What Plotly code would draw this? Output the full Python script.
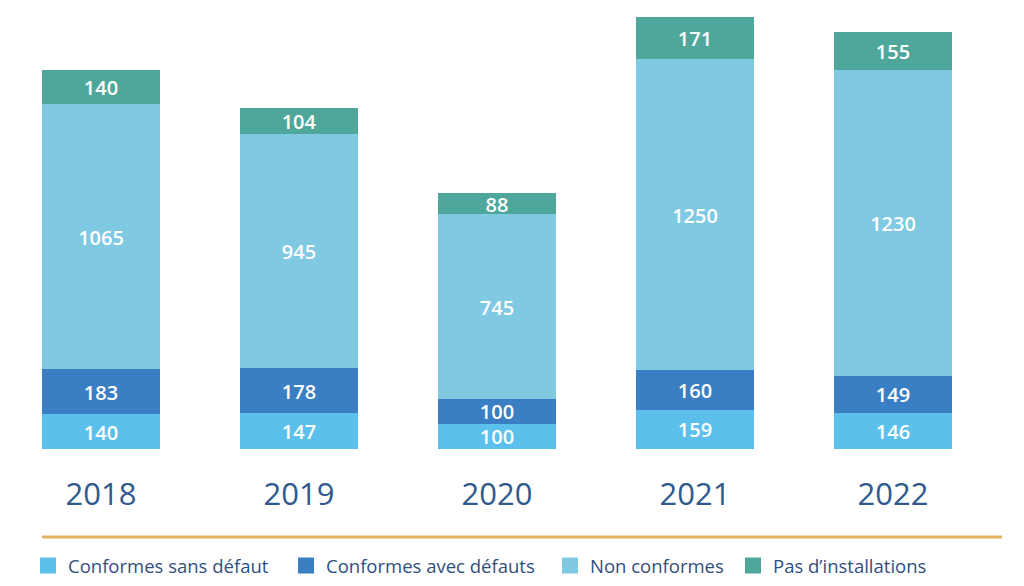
import plotly.graph_objects as go

years = ["2018", "2019", "2020", "2021", "2022"]
series_names = ["Conformes sans défaut", "Conformes avec défauts", "Non conformes", "Pas d’installations"]
conformes_sans = [140, 147, 100, 159, 146]
conformes_avec = [183, 178, 100, 160, 149]
non_conformes = [1065, 945, 745, 1250, 1230]
pas_install = [140, 104, 88, 171, 155]

colors = ["#5CC0EC", "#3A7FC4", "#80C9E3", "#4FA79B"]
values = [conformes_sans, conformes_avec, non_conformes, pas_install]
legend_ids = ["legend", "legend2", "legend3", "legend4"]
legend_x_px = [20, 278, 542, 725]

fig = go.Figure()
for k, (name, vals, col, lid) in enumerate(zip(series_names, values, colors, legend_ids)):
    # slightly smaller labels on the two thin stacked segments of the shortest bar
    sizes = [20 if (k < 2 and v <= 100) else 22 for v in vals]
    fig.add_trace(go.Bar(
        x=years, y=vals, name=name, marker=dict(color=col, line=dict(width=0)),
        text=vals, texttemplate="%{text}", textposition="inside",
        insidetextanchor="middle", textangle=0, constraintext="none",
        textfont=dict(color="white", size=sizes, family="Open Sans", weight=600),
        showlegend=False, hoverinfo="skip",
    ))
    fig.add_trace(go.Scatter(
        x=[None], y=[None], mode="markers", name=name,
        marker=dict(symbol="square", size=16, color=col),
        legend=lid, showlegend=True,
    ))

layout_legends = {}
for lid, xp in zip(legend_ids, legend_x_px):
    layout_legends[lid] = dict(
        xref="container", yref="container", x=xp / 1024, y=1 - 558 / 586,
        xanchor="left", yanchor="middle", orientation="h",
        font=dict(size=18.5, color="#2F4F7F", family="Open Sans"),
        bgcolor="rgba(0,0,0,0)", itemwidth=30, tracegroupgap=0,
    )

fig.update_layout(
    barmode="stack", bargap=0.404,
    width=1024, height=586,
    margin=dict(l=0, r=40, t=2, b=145),
    paper_bgcolor="white", plot_bgcolor="white",
    uniformtext=dict(minsize=20, mode="show"),
    xaxis=dict(range=[-0.4697, 4.5], showline=False, showgrid=False, ticks="",
               tickfont=dict(size=31, color="#2F5A8E", family="Open Sans"),
               ticklabelstandoff=24),
    yaxis=dict(range=[0, 1768], visible=False),
    shapes=[dict(type="line", xref="paper", yref="paper",
                 x0=(42 - 8) / 984, x1=(1002 - 8) / 984,
                 y0=(449 - 537) / 439, y1=(449 - 537) / 439,
                 line=dict(color="#E2B45F", width=3))],
    **layout_legends,
)

fig.write_html("out.html")
